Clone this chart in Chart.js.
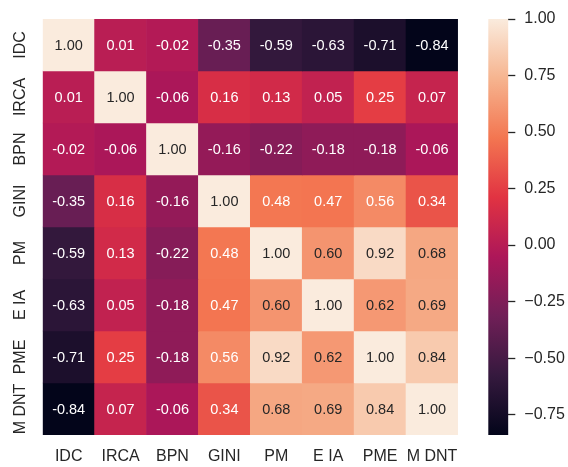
<!DOCTYPE html>
<html>
<head>
<meta charset="utf-8">
<script src="https://cdn.jsdelivr.net/npm/chart.js@4"></script>
<style>
  body { margin: 0; background: #fff; }
  #wrap { position: relative; width: 568px; height: 467px; }
  #heat { position: absolute; left: 0; top: 0; }
  #bar { position: absolute; left: 460px; top: 0; }
</style>
</head>
<body>
<div id="wrap">
  <canvas id="heat" width="470" height="467"></canvas>
  <canvas id="bar" width="108" height="467"></canvas>
</div>
<script>
const names = ['IDC', 'IRCA', 'BPN', 'GINI', 'PM', 'E IA', 'PME', 'M DNT'];

const rowIDC  = [1.00, 0.01, -0.02, -0.35, -0.59, -0.63, -0.71, -0.84];
const rowIRCA = [0.01, 1.00, -0.06, 0.16, 0.13, 0.05, 0.25, 0.07];
const rowBPN  = [-0.02, -0.06, 1.00, -0.16, -0.22, -0.18, -0.18, -0.06];
const rowGINI = [-0.35, 0.16, -0.16, 1.00, 0.48, 0.47, 0.56, 0.34];
const rowPM   = [-0.59, 0.13, -0.22, 0.48, 1.00, 0.60, 0.92, 0.68];
const rowEIA  = [-0.63, 0.05, -0.18, 0.47, 0.60, 1.00, 0.62, 0.69];
const rowPME  = [-0.71, 0.25, -0.18, 0.56, 0.92, 0.62, 1.00, 0.84];
const rowMDNT = [-0.84, 0.07, -0.06, 0.34, 0.68, 0.69, 0.84, 1.00];
const rows = [rowIDC, rowIRCA, rowBPN, rowGINI, rowPM, rowEIA, rowPME, rowMDNT];

const vmin = -0.84;
const vmax = 1.00;
const barTicks = [-0.75, -0.50, -0.25, 0.00, 0.25, 0.50, 0.75, 1.00];

// rocket colormap anchors
const rocket = [
  [0, [3, 5, 26]],
  [1/7, [53, 25, 62]],
  [2/7, [112, 31, 87]],
  [3/7, [173, 23, 89]],
  [4/7, [225, 51, 66]],
  [5/7, [243, 118, 81]],
  [6/7, [246, 180, 143]],
  [1, [250, 235, 221]]
];

function rocketRGB(t) {
  t = Math.max(0, Math.min(1, t));
  for (let i = 1; i < rocket.length; i++) {
    if (t <= rocket[i][0]) {
      const [t0, c0] = rocket[i - 1];
      const [t1, c1] = rocket[i];
      const f = (t - t0) / (t1 - t0);
      return c0.map((c, k) => Math.round(c + (c1[k] - c) * f));
    }
  }
  return rocket[rocket.length - 1][1];
}
function colorFor(v) {
  const c = rocketRGB((v - vmin) / (vmax - vmin));
  return 'rgb(' + c.join(',') + ')';
}
function textColorFor(v) {
  const c = rocketRGB((v - vmin) / (vmax - vmin)).map(x => {
    x /= 255;
    return x <= 0.03928 ? x / 12.92 : Math.pow((x + 0.055) / 1.055, 2.4);
  });
  const lum = 0.2126 * c[0] + 0.7152 * c[1] + 0.0722 * c[2];
  return lum > 0.408 ? '#262626' : '#ffffff';
}

const FONT = '"Liberation Sans", Arial, sans-serif';

const annotate = {
  id: 'annotate',
  afterDatasetsDraw(chart) {
    const ctx = chart.ctx;
    ctx.save();
    ctx.font = '14.5px ' + FONT;
    ctx.textAlign = 'center';
    ctx.textBaseline = 'middle';
    chart.data.datasets.forEach((ds, r) => {
      chart.getDatasetMeta(r).data.forEach((el, i) => {
        const v = rows[r][i];
        ctx.fillStyle = textColorFor(v);
        ctx.fillText(v.toFixed(2), el.x, (el.y + el.base) / 2 + 1);
      });
    });
    // rotated row labels
    const y = chart.scales.y;
    ctx.fillStyle = '#262626';
    ctx.font = '16px ' + FONT;
    names.forEach((n, r) => {
      ctx.save();
      ctx.translate(21, y.getPixelForValue(r + 0.5));
      ctx.rotate(-Math.PI / 2);
      ctx.fillText(n, 0, 0);
      ctx.restore();
    });
    ctx.restore();
  }
};

new Chart(document.getElementById('heat'), {
  type: 'bar',
  data: {
    labels: names,
    datasets: rows.map((row, r) => ({
      label: names[r],
      data: row.map(() => [r, r + 1]),
      backgroundColor: row.map(colorFor),
      borderWidth: 0,
      grouped: false,
      barPercentage: 1,
      categoryPercentage: 1
    }))
  },
  options: {
    responsive: false,
    animation: false,
    layout: { padding: { left: 42.7, top: 19, right: 10.7, bottom: 0 } },
    plugins: { legend: { display: false }, tooltip: { enabled: false } },
    scales: {
      x: {
        grid: { display: false, drawTicks: false },
        border: { display: false },
        ticks: { color: '#262626', font: { size: 16, family: FONT }, padding: 12, maxRotation: 0, autoSkip: false },
        afterFit(scale) { scale.height = 32; }
      },
      y: { display: false, min: 0, max: 8, reverse: true }
    }
  },
  plugins: [annotate]
});

new Chart(document.getElementById('bar'), {
  type: 'bar',
  data: {
    labels: [''],
    datasets: [{
      data: [[vmin, vmax]],
      borderWidth: 0,
      barPercentage: 1,
      categoryPercentage: 1,
      backgroundColor(context) {
        const area = context.chart.chartArea;
        if (!area) return null;
        const g = context.chart.ctx.createLinearGradient(0, area.bottom, 0, area.top);
        rocket.forEach(([t, c]) => g.addColorStop(t, 'rgb(' + c.join(',') + ')'));
        return g;
      }
    }]
  },
  options: {
    responsive: false,
    animation: false,
    layout: { padding: { left: 28.3, top: 19, bottom: 32, right: 0 } },
    plugins: { legend: { display: false }, tooltip: { enabled: false } },
    scales: {
      x: { display: false },
      y: {
        position: 'right',
        min: vmin,
        max: vmax,
        border: { display: false },
        grid: { drawOnChartArea: false, drawTicks: true, tickLength: 7, tickWidth: 1.3, color: '#262626' },
        afterBuildTicks(scale) { scale.ticks = barTicks.map(v => ({ value: v })); },
        ticks: {
          color: '#262626',
          font: { size: 16, family: FONT },
          padding: 9,
          callback: v => (v < 0 ? '\u2212' : '') + Math.abs(v).toFixed(2)
        },
        afterFit(scale) { scale.width = 59.7; }
      }
    }
  }
});
</script>
</body>
</html>
